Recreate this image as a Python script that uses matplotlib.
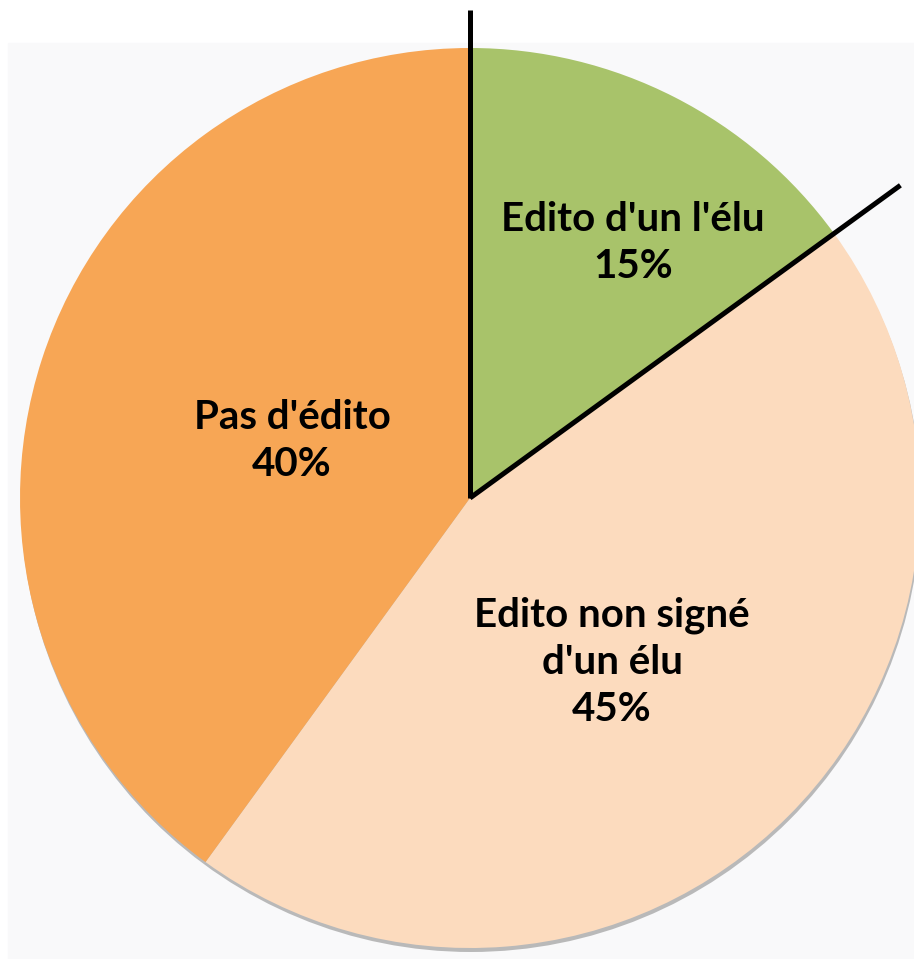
import matplotlib
matplotlib.use("Agg")
import matplotlib.pyplot as plt
import numpy as np
from matplotlib.patches import Circle, Rectangle

labels = ["Edito d'un l'élu", "Edito non signé\nd'un élu", "Pas d'édito"]
values = [15, 45, 40]
colors = ["#A8C36A", "#FCDBBE", "#F7A655"]

W, H = 914, 959
fig = plt.figure(figsize=(W / 100, H / 100), dpi=100)
ax = fig.add_axes([0, 0, 1, 1])

cx, cy, r = 470, H - 498, 450

ax.add_patch(Rectangle((8, 0), W, H - 43, color="#F9F9FA", zorder=0))
ax.add_patch(Circle((cx + 1, cy - 4), r, color="#8f8f8f", alpha=0.6, zorder=1, lw=0))

wedges, _ = ax.pie(values, colors=colors, startangle=90, counterclock=False,
                   center=(cx, cy), radius=r, frame=True,
                   wedgeprops=dict(linewidth=0, zorder=2))
ax.set_xlim(0, W)
ax.set_ylim(0, H)
ax.set_aspect("equal")
ax.axis("off")

# black separator lines around the first slice
total = sum(values)
cum = np.cumsum([0] + values)
line_lengths = [488, 532]
for k, L in zip([0, 1], line_lengths):
    ang = np.deg2rad(90 - 360 * cum[k] / total)
    ax.plot([cx, cx + L * np.cos(ang)], [cy, cy + L * np.sin(ang)],
            color="black", lw=3.6, solid_capstyle="butt", zorder=5)

text_pos = [(633, H - 243), (612, H - 662), (292, H - 441)]
for lab, v, (tx, ty) in zip(labels, values, text_pos):
    ax.text(tx, ty, f"{lab}\n{v}%", ha="center", va="center", fontsize=29,
            fontweight="bold", family="Lato", linespacing=1.33, zorder=6)

fig.savefig("out.png", dpi=100)
